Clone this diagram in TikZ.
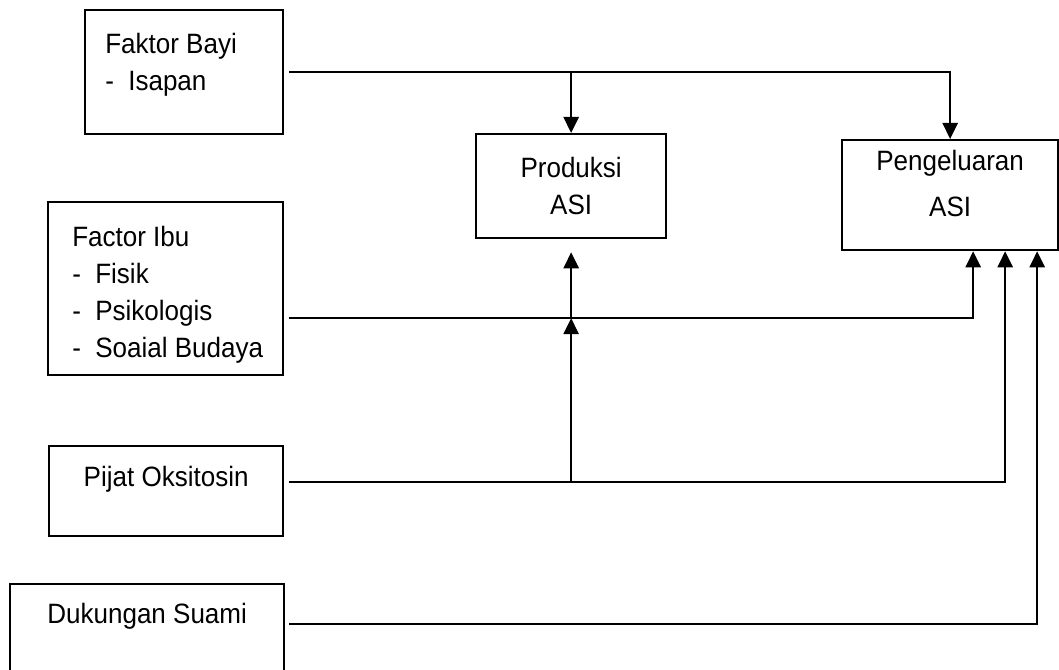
\documentclass[tikz,border=0pt]{standalone}
\usepackage{fontspec}
\setmainfont{Liberation Sans}[FakeStretch=0.93]
\usetikzlibrary{arrows.meta}

\newcommand{\dashitem}{\hbox to 0.575cm{-\hfil}}

\begin{document}
\begin{tikzpicture}[x=0.025cm, y=-0.025cm,
  box/.style={draw, line width=1.6pt, inner sep=0pt, anchor=north west},
  txt/.style={inner sep=0pt, font=\fontsize{19.9}{26.3}\selectfont},
  link/.style={line width=1.35pt},
  arr/.style={link, -{Triangle[length=0.4cm, width=0.38cm]}}]
  \clip (0,0) rectangle (1059,670);

  \node[box, minimum width=4.95cm, minimum height=3.1cm] (bayi) at (84,9) {};
  \node[box, minimum width=5.875cm, minimum height=4.325cm] (ibu) at (47,201) {};
  \node[box, minimum width=5.85cm, minimum height=2.25cm] (pijat) at (48,445) {};
  \node[box, minimum width=6.85cm, minimum height=3cm] (suami) at (9,583) {};
  \node[box, minimum width=4.75cm, minimum height=2.6cm] (prod) at (475,133) {};
  \node[box, minimum width=5.4cm, minimum height=2.75cm] (keluar) at (841,139) {};

  \node[txt, align=left, anchor=north west] (bayitxt) at ([shift={(21,24)}]bayi.north west)
    {Faktor Bayi\\\dashitem Isapan};
  \node[txt, align=left, anchor=north west] (ibutxt) at ([shift={(25,25)}]ibu.north west)
    {Factor Ibu\\\dashitem Fisik\\\dashitem Psikologis\\\dashitem Soaial Budaya};
  \node[txt, anchor=north] (pijattxt) at ([shift={(0,21)}]pijat.north) {Pijat Oksitosin};
  \node[txt, anchor=north] (suamitxt) at ([shift={(0,20)}]suami.north) {Dukungan Suami};
  \node[txt, align=center, anchor=north] (prodtxt) at ([shift={(0,24)}]prod.north) {Produksi\\ASI};
  \node[txt, align=center, anchor=north] (keluartxt) at ([shift={(0,11)}]keluar.north)
    {Pengeluaran\\[0.23cm]ASI};

  \coordinate (bayiout) at ([shift={(5,0)}]bayi.east);
  \coordinate (ibuout) at ([shift={(5,29.5)}]ibu.east);
  \coordinate (pijatout) at ([shift={(5,-9)}]pijat.east);
  \coordinate (suamiout) at ([shift={(4,-20)}]suami.east);
  \coordinate (k1) at ([shift={(23,0)}]keluar.south);
  \coordinate (k2) at ([shift={(55,0)}]keluar.south);
  \coordinate (k3) at ([shift={(87,0)}]keluar.south);
  \coordinate (jct) at (ibuout -| prod.south);

  \draw[arr] (bayiout) -| (keluar.north);
  \draw[arr] (bayiout -| prod.north) -- (prod.north);
  \draw[arr] (ibuout) -| (k1);
  \draw[arr, shorten >=0.325cm] (jct) -- (prod.south);
  \draw[arr] (pijatout) -| (k2);
  \draw[arr] (pijatout -| jct) -- (jct);
  \draw[arr] (suamiout) -| (k3);
\end{tikzpicture}
\end{document}
